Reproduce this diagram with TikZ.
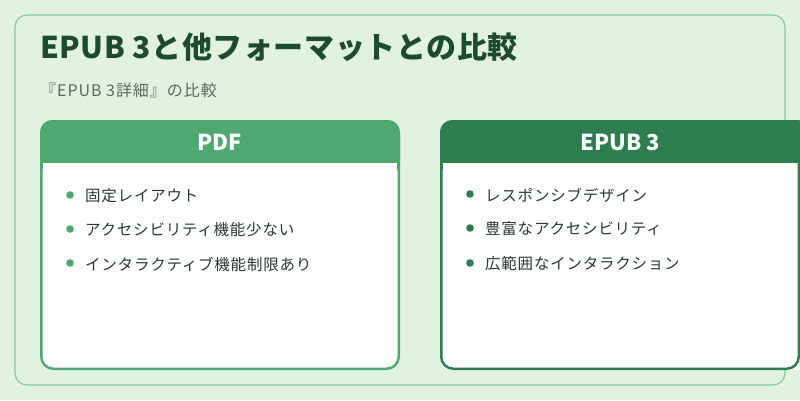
\documentclass[tikz,border=0pt]{standalone}
\usepackage{fontspec}
\setmainfont{Noto Sans CJK JP}
\definecolor{bg}{HTML}{E1F2E0}
\definecolor{frame}{HTML}{8CC79C}
\definecolor{titlec}{HTML}{1E4A30}
\definecolor{subc}{HTML}{5A6A60}
\definecolor{pdfc}{HTML}{4FA86F}
\definecolor{epubc}{HTML}{2E7D4F}
\definecolor{txt}{HTML}{2A3A32}
\tikzset{x=1pt,y=-1pt,
 item/.style={anchor=west,font=\fontsize{15.5}{18}\selectfont\addfontfeatures{LetterSpace=5},text=txt,inner sep=0pt},
 hdr/.style={font=\fontsize{22}{26}\selectfont\bfseries,text=white}}
\begin{document}
\begin{tikzpicture}
\useasboundingbox (0,0) rectangle (800,400);
\fill[bg] (0,0) rectangle (800,400);
\draw[frame,line width=1.2pt,rounded corners=12pt] (15,15) rectangle (785,385);
\node[anchor=west,inner sep=0pt,text=titlec,font=\fontsize{30}{34}\selectfont\bfseries\addfontfeatures{LetterSpace=2}] (title) at (40,47) {EPUB 3と他フォーマットとの比較};
\node[anchor=west,inner sep=0pt,text=subc,font=\fontsize{16}{19}\selectfont\addfontfeatures{LetterSpace=6}] (sub) at (40,90) {『EPUB 3詳細』の比較};
% left card
\begin{scope}
\fill[white,rounded corners=12pt] (40,120) rectangle (400,370);
\fill[pdfc,rounded corners=12pt] (40,120) rectangle (400,175);
\fill[pdfc] (40,150) rectangle (400,163);
\fill[white] (43,163) rectangle (397,180);
\draw[pdfc,line width=2.5pt,rounded corners=12pt] (41.25,121.25) rectangle (398.75,368.75);
\node[hdr] (pdf) at (220,142) {PDF};
\foreach \t/\y [count=\i] in {固定レイアウト/196,アクセシビリティ機能少ない/230,インタラクティブ機能制限あり/264}{
 \fill[pdfc] (70,\y-1) circle (3.8pt);
 \node[item] (l\i) at (85,\y) {\t};}
\end{scope}
% right card
\begin{scope}
\clip (0,0) rectangle (800,400);
\fill[white,rounded corners=12pt] (440,120) rectangle (810,370);
\fill[epubc,rounded corners=12pt] (440,120) rectangle (810,175);
\fill[epubc] (440,150) rectangle (810,163);
\fill[white] (443,163) rectangle (810,180);
\draw[epubc,line width=2.5pt,rounded corners=12pt] (441.25,121.25) rectangle (798.75,368.75);
\node[hdr] (epub) at (620,142) {EPUB 3};
\foreach \t/\y [count=\i] in {レスポンシブデザイン/195,豊富なアクセシビリティ/229,広範囲なインタラクション/264}{
 \fill[epubc] (470,\y-1) circle (3.8pt);
 \node[item] (r\i) at (485,\y) {\t};}
\end{scope}
\end{tikzpicture}
\end{document}
